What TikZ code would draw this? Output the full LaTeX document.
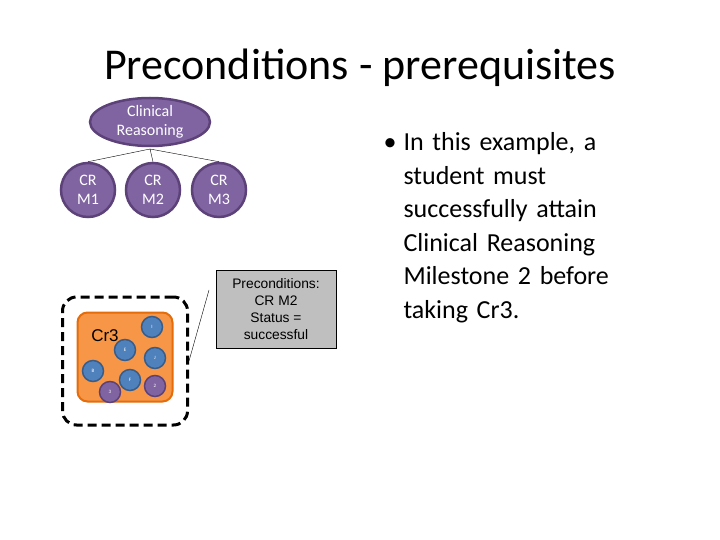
\documentclass[tikz,border=0pt]{standalone}
\usepackage{fontspec}
\setmainfont{Carlito}
\newfontfamily\arialf{Liberation Sans}
\usetikzlibrary{shapes.geometric}
\definecolor{purp}{RGB}{128,100,162}
\definecolor{purpd}{RGB}{92,66,120}
\definecolor{blu}{RGB}{79,129,189}
\definecolor{blud}{RGB}{56,93,138}
\definecolor{orng}{RGB}{247,150,70}
\definecolor{orngd}{RGB}{228,108,10}
\begin{document}
\begin{tikzpicture}[x=1pt,y=-1pt,
  crc/.style={circle,fill=purp,draw=purpd,line width=2.5pt,minimum size=54pt,inner sep=0pt,text=white,font=\fontsize{16}{19}\selectfont,align=center},
  sm/.style={circle,fill=blu,draw=blud,line width=1.5pt,minimum size=21pt,inner sep=0pt,text=white,font=\fontsize{5}{6}\selectfont},
  smp/.style={sm,fill=purp,draw=purpd}]
\useasboundingbox (0,0) rectangle (720,540);
\node (title) at (360,68) {\fontsize{44}{50}\selectfont Preconditions - prerequisites};
\node[ellipse,fill=purp,draw=purpd,line width=2.5pt,minimum width=120pt,minimum height=48pt,inner sep=0pt,text=white,align=center,font=\fontsize{16}{19}\selectfont] (cr) at (150,122) {Clinical\\Reasoning};
\node[crc] (m1) at (88,190) {CR\\M1};
\node[crc] (m2) at (153,190) {CR\\M2};
\node[crc] (m3) at (219,190) {CR\\M3};
\coordinate (j) at (150,149);
\draw (j) -- (m1.north) (j) -- (m2.north) (j) -- (m3.north);
\node[draw=black,dashed,line width=3pt,dash pattern=on 9pt off 5pt,rounded corners=14pt,minimum width=125pt,minimum height=128pt] (dash) at (125,361) {};
\node[draw=orngd,fill=orng,line width=2pt,rounded corners=10pt,minimum width=95pt,minimum height=89pt] (cbox) at (125,357) {};
\node[font=\arialf\fontsize{17}{20}\selectfont] (cr3) at (105,336) {Cr3};
\node[sm] (nI) at (152,327) {I};
\node[sm] (nE) at (125,350) {E};
\node[sm] (nJ) at (155,358) {J};
\node[sm] (nB) at (93,371) {B};
\node[smp] (n3) at (110,392) {3};
\node[sm] (nF) at (130,380) {F};
\node[smp] (n2) at (155,386) {2};
\node[draw=black,fill=black!25,minimum width=120pt,minimum height=78pt,align=center,font=\arialf\fontsize{13.8}{17}\selectfont] (pre) at (276,309) {Preconditions:\\CR M2\\Status =\\successful};
\coordinate (ct) at (209,290);
\draw (ct) -- (dash.east);
\node[anchor=north west,align=left,font=\fontsize{26}{33.5}\selectfont,text width=330pt] (bul) at (380,129) {%
\makebox[20pt][l]{•}In this example, a\\
\hspace*{20pt}student must\\
\hspace*{20pt}successfully attain\\
\hspace*{20pt}Clinical Reasoning\\
\hspace*{20pt}Milestone 2 before\\
\hspace*{20pt}taking Cr3.};
\end{tikzpicture}
\end{document}
